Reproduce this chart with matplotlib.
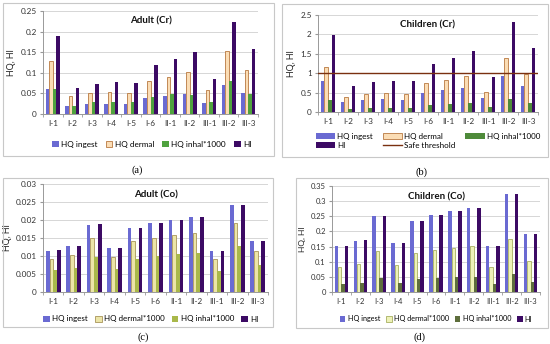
import matplotlib
matplotlib.use("Agg")
import matplotlib.pyplot as plt
import numpy as np
from matplotlib.patches import Rectangle
from matplotlib.lines import Line2D

plt.rcParams["font.family"] = ["Lato", "DejaVu Sans"]

sites = ["I-1", "I-2", "I-3", "I-4", "I-5", "I-6", "II-1", "II-2", "III-1", "III-2", "III-3"]

# (a) Adult Cr
a_ingest = [0.060, 0.020, 0.024, 0.025, 0.024, 0.038, 0.043, 0.048, 0.027, 0.071, 0.051]
a_dermal = [0.129, 0.044, 0.051, 0.053, 0.052, 0.081, 0.090, 0.102, 0.059, 0.152, 0.108]
a_inhal = [0.060, 0.020, 0.030, 0.030, 0.030, 0.041, 0.048, 0.046, 0.030, 0.081, 0.048]
a_hi = [0.190, 0.064, 0.074, 0.078, 0.076, 0.119, 0.133, 0.150, 0.085, 0.223, 0.158]

# (b) Children Cr
b_ingest = [0.80, 0.27, 0.32, 0.33, 0.31, 0.50, 0.56, 0.63, 0.36, 0.93, 0.66]
b_dermal = [1.17, 0.39, 0.46, 0.50, 0.47, 0.74, 0.83, 0.92, 0.52, 1.39, 0.99]
b_inhal = [0.30, 0.09, 0.10, 0.10, 0.10, 0.18, 0.20, 0.23, 0.13, 0.34, 0.24]
b_hi = [1.99, 0.67, 0.77, 0.81, 0.79, 1.23, 1.39, 1.56, 0.89, 2.33, 1.64]
b_threshold = 1.0

# (c) Adult Co
c_ingest = [0.0115, 0.0128, 0.0187, 0.0122, 0.0177, 0.0191, 0.0200, 0.0207, 0.0114, 0.0241, 0.0142]
c_dermal = [0.0093, 0.0102, 0.0149, 0.0098, 0.0141, 0.0150, 0.0159, 0.0164, 0.0091, 0.0191, 0.0113]
c_inhal = [0.0060, 0.0067, 0.0098, 0.0063, 0.0092, 0.0100, 0.0105, 0.0108, 0.0059, 0.0127, 0.0074]
c_hi = [0.0116, 0.0128, 0.0188, 0.0122, 0.0177, 0.0191, 0.0200, 0.0207, 0.0115, 0.0242, 0.0142]

# (d) Children Co
d_ingest = [0.153, 0.170, 0.250, 0.163, 0.235, 0.255, 0.268, 0.278, 0.153, 0.323, 0.191]
d_dermal = [0.084, 0.093, 0.136, 0.089, 0.129, 0.139, 0.146, 0.151, 0.084, 0.176, 0.104]
d_inhal = [0.026, 0.029, 0.045, 0.029, 0.042, 0.046, 0.049, 0.051, 0.027, 0.059, 0.034]
d_hi = [0.153, 0.171, 0.250, 0.163, 0.235, 0.255, 0.268, 0.278, 0.153, 0.323, 0.191]

W, H = 550, 344
fig = plt.figure(figsize=(W / 100, H / 100), dpi=100)
fig.patch.set_facecolor("white")

def rect(l, t, r, b):
    return [l / W, 1 - b / H, (r - l) / W, (b - t) / H]

def box(l, t, r, b):
    fig.patches.append(Rectangle((l / W, 1 - b / H), (r - l) / W, (b - t) / H,
                                 transform=fig.transFigure, fill=False,
                                 edgecolor="#C8C8C8", linewidth=0.8))

HI_C = "#3C0A64"
ING_C = "#6A6AD2"
GRID = "#D0D0D0"
SERIF = ["Liberation Serif", "DejaVu Serif"]

def panel(pos, series, styles, labels, ymax, ystep, yfmt, title, fs=5.9):
    ax = fig.add_axes(rect(*pos))
    x = np.arange(len(sites))
    w = 0.18
    handles = []
    for i, (vals, st, lab) in enumerate(zip(series, styles, labels)):
        h = ax.bar(x + (i - 1.5) * w, vals, width=w, color=st[0], edgecolor=st[1],
                   linewidth=st[2], label=lab, zorder=3)
        handles.append(h)
    ax.set_xlim(-0.5, len(sites) - 0.5)
    ax.set_ylim(0, ymax)
    ticks = np.arange(0, ymax + ystep / 2, ystep)
    ax.set_yticks(ticks)
    ax.set_yticklabels([yfmt(t) for t in ticks])
    ax.set_xticks(x)
    ax.set_xticklabels(sites)
    ax.set_xticks(np.arange(-0.5, len(sites)), minor=True)
    ax.tick_params(axis="x", which="major", length=0, labelsize=fs, pad=4, colors="#333333")
    ax.tick_params(axis="x", which="minor", length=2.5, color="#999999")
    ax.tick_params(axis="y", length=2.5, color="#999999", labelsize=fs, pad=2, labelcolor="#333333")
    ax.grid(axis="y", color=GRID, linewidth=0.6, zorder=0)
    for s in ["top", "right"]:
        ax.spines[s].set_visible(False)
    for s in ["left", "bottom"]:
        ax.spines[s].set_color("#999999")
        ax.spines[s].set_linewidth(0.7)
    ax.set_ylabel("HQ, HI", fontsize=fs + 0.5, labelpad=3, color="#222222")
    ax.text(0.5, 0.9, title, transform=ax.transAxes, ha="center", va="center",
            fontsize=7, fontweight="bold", color="#111111")
    return ax, handles

def fmt_plain(t):
    s = f"{t:.3f}".rstrip("0").rstrip(".")
    return s if s else "0"

def square_legend(hs, cx, cy, fs, cs):
    fig.legend(handles=hs, loc="center", bbox_to_anchor=(cx / W, 1 - cy / H), ncol=4,
               frameon=False, fontsize=fs, handlelength=0.8, handleheight=0.8,
               columnspacing=cs, handletextpad=0.3)

# (a)
box(3, 3, 274, 156)
ax, hs = panel((43, 11, 258, 114), [a_ingest, a_dermal, a_inhal, a_hi],
               [(ING_C, ING_C, 0), ("#FBDDB5", "#B87840", 0.6), ("#4FA23E", "#4FA23E", 0), (HI_C, HI_C, 0)],
               ["HQ ingest", "HQ dermal", "HQ inhal*1000", "HI"], 0.25, 0.05, fmt_plain, "Adult (Cr)")
square_legend(hs, 152, 144, 5.9, 1.0)
fig.text(137 / W, 1 - 170 / H, "(a)", ha="center", va="center", fontsize=7.5, family=SERIF)

# (b)
box(282, 4, 548, 157)
ax, hs = panel((318, 15, 538, 112), [b_ingest, b_dermal, b_inhal, b_hi],
               [(ING_C, ING_C, 0), ("#FBDDB5", "#B87840", 0.6), ("#4E8A3A", "#4E8A3A", 0), (HI_C, HI_C, 0)],
               ["HQ ingest", "HQ dermal", "HQ inhal*1000", "HI"], 2.5, 0.5,
               lambda t: f"{t:g}", "Children (Cr)")
ax.axhline(b_threshold, color="#7A3010", linewidth=1.0, zorder=4)
safe = Line2D([], [], color="#7A3010", linewidth=1.0, label="Safe threshold")
fig.legend(handles=[hs[0], hs[3], hs[1], safe, hs[2]], loc="center",
           bbox_to_anchor=(428 / W, 1 - 141 / H), ncol=3,
           frameon=False, fontsize=5.8, handlelength=2.4, handleheight=0.8,
           columnspacing=1.2, handletextpad=0.3, labelspacing=0.25)
fig.text(422 / W, 1 - 172 / H, "(b)", ha="center", va="center", fontsize=7.5, family=SERIF)

# (c)
box(3, 178, 273, 327)
ax, hs = panel((43, 184, 268, 292), [c_ingest, c_dermal, c_inhal, c_hi],
               [(ING_C, ING_C, 0), ("#ECE5A8", "#A89458", 0.6), ("#A9B84A", "#A9B84A", 0), (HI_C, HI_C, 0)],
               ["HQ ingest", "HQ dermal*1000", "HQ inhal*1000", "HI"], 0.03, 0.005, fmt_plain, "Adult (Co)")
square_legend(hs, 151, 319, 5.8, 0.9)
fig.text(143 / W, 1 - 337 / H, "(c)", ha="center", va="center", fontsize=7.5, family=SERIF)

# (d)
box(296, 178, 548, 328)
ax, hs = panel((332, 186, 540, 292), [d_ingest, d_dermal, d_inhal, d_hi],
               [(ING_C, ING_C, 0), ("#EEF2B8", "#A8B060", 0.6), ("#5E6E3C", "#5E6E3C", 0), (HI_C, HI_C, 0)],
               ["HQ ingest", "HQ dermal*1000", "HQ inhal*1000", "HI"], 0.35, 0.05, fmt_plain,
               "Children (Co)", fs=5.5)
square_legend(hs, 436, 319, 5.2, 0.8)
fig.text(419 / W, 1 - 337 / H, "(d)", ha="center", va="center", fontsize=7.5, family=SERIF)

fig.savefig("out.png", dpi=100)
